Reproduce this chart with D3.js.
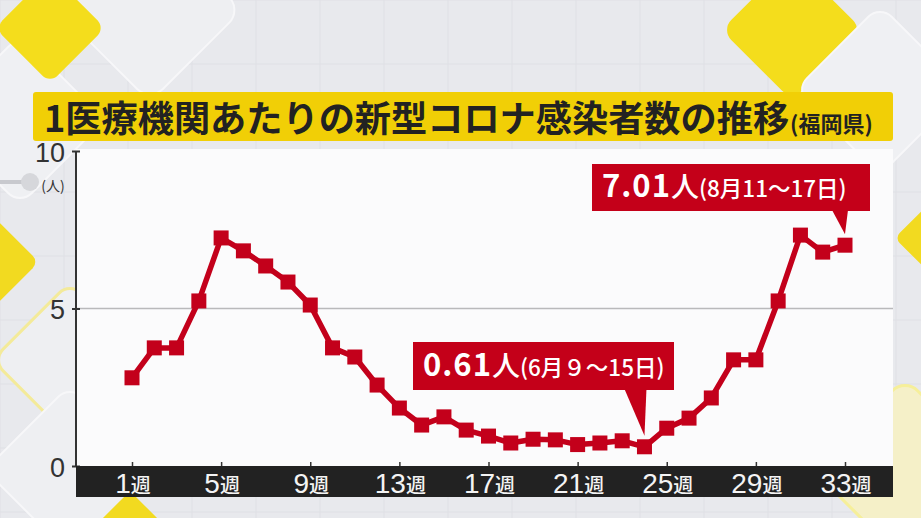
<!DOCTYPE html>
<html><head><meta charset="utf-8">
<script src="https://cdn.jsdelivr.net/npm/d3@7/dist/d3.min.js"></script>
<style>body{margin:0;overflow:hidden;background:#e9eaee}svg{display:block}</style>
</head><body>
<svg id="c" width="921" height="518"></svg>
<script>
// ---- data ----
const weeks = [1,2,3,4,5,6,7,8,9,10,11,12,13,14,15,16,17,18,19,20,21,22,23,24,25,26,27,28,29,30,31,32,33];
const values = [2.80,3.75,3.75,5.24,7.24,6.83,6.35,5.84,5.11,3.75,3.46,2.57,1.84,1.30,1.56,1.14,0.95,0.73,0.85,0.83,0.68,0.73,0.80,0.61,1.20,1.52,2.16,3.37,3.37,5.24,7.33,6.79,7.01];
const xTickWeeks = [1,5,9,13,17,21,25,29,33];
const xTickSuffix = "週";
const yTicks = [0,5,10];
const yUnit = "(人)";
const titleMain = "1医療機関あたりの新型コロナ感染者数の推移";
const titleSub = "(福岡県)";
const calloutLow = {week:24, big:"0.61", unit:"人", note:"(6月９～15日)"};
const calloutHigh = {week:33, big:"7.01", unit:"人", note:"(8月11～17日)"};

const svg = d3.select("#c");
const JP = "'Noto Sans CJK JP','Noto Sans',sans-serif";
const LAT = "'Liberation Sans','Noto Sans CJK JP',sans-serif";

// ---- background decoration ----
const bg = svg.append("g");
bg.append("rect").attr("width",921).attr("height",518).attr("fill","#e8e9ed");
for(let gx=0; gx<921; gx+=64) bg.append("line").attr("x1",gx).attr("x2",gx).attr("y1",0).attr("y2",518).attr("stroke","#dfe0e5").attr("stroke-width",1);
for(let gy=0; gy<518; gy+=64) bg.append("line").attr("y1",gy).attr("y2",gy).attr("x1",0).attr("x2",921).attr("stroke","#dfe0e5").attr("stroke-width",1);
function diamond(cx,cy,s,fill,stroke,sw){
  bg.append("rect").attr("x",-s/2).attr("y",-s/2).attr("width",s).attr("height",s).attr("rx",s*0.14)
    .attr("transform",`translate(${cx},${cy}) rotate(45)`).attr("fill",fill).attr("stroke",stroke||"none").attr("stroke-width",sw||0);
}
diamond(150,10,130,"#eeeff2","#f7f7f9",2);
diamond(20,120,120,"#eff0f3","#f7f7f9",2);
diamond(50,28,78,"#f4dd1c");
diamond(792,30,100,"#f4dd1c");
diamond(880,90,120,"#eff0f3","#f7f7f9",2);
diamond(-5,262,62,"#f2da20");
diamond(70,360,110,"#eeeff2","#f3ea9a",3);
diamond(70,470,120,"#eeeff2","#f7f7f9",2);
diamond(130,532,58,"#f2da20");
diamond(930,238,50,"#f2da20");
diamond(905,470,130,"#f5f0c8","#f6ef9a",3);
bg.append("line").attr("x1",0).attr("x2",30).attr("y1",182).attr("y2",182).attr("stroke","#c8c9ce").attr("stroke-width",4);
bg.append("circle").attr("cx",30).attr("cy",182).attr("r",9).attr("fill","#d6d7db");

// ---- title bar ----
svg.append("rect").attr("x",33).attr("y",92).attr("width",860).attr("height",49).attr("rx",3).attr("fill","#f1cf06");
const tt = svg.append("text").attr("x",44).attr("y",132).attr("fill","#222").attr("font-family",JP).attr("font-weight",700);
tt.append("tspan").attr("font-size",36.2).text(titleMain);
tt.append("tspan").attr("font-size",22).attr("dx",1).text(titleSub);

// ---- chart ----
const x = d3.scaleLinear().domain([1,33]).range([132,845]);
const y = d3.scaleLinear().domain([0,10]).range([466,151]);
const plotL = 76, plotR = 893, plotT = 149;

svg.append("rect").attr("x",plotL).attr("y",plotT).attr("width",plotR-plotL).attr("height",y(0)-plotT).attr("fill","#fbfbfc");
svg.append("line").attr("x1",plotL).attr("x2",plotR).attr("y1",y(5)).attr("y2",y(5)).attr("stroke","#b9b9bb").attr("stroke-width",1.5);

const yAxis = d3.axisLeft(y).tickValues(yTicks).tickSize(4).tickFormat(d3.format("d"));
const yg = svg.append("g").attr("transform",`translate(${plotL},0)`).call(yAxis);
yg.select(".domain").attr("stroke","#333").attr("stroke-width",2).attr("d",`M0,${y(10)}V${y(0)}`);
yg.selectAll(".tick line").attr("stroke","#333").attr("stroke-width",2).attr("x1",4);
yg.selectAll(".tick text").attr("font-family",LAT).attr("font-size",27).attr("fill","#333").attr("x",-11).attr("dy","0.38em");
svg.append("text").attr("x",53).attr("y",191).attr("text-anchor","middle").attr("font-family",JP).attr("font-size",14).attr("fill","#333").text(yUnit);

svg.append("rect").attr("x",plotL).attr("y",y(0)).attr("width",plotR-plotL).attr("height",31).attr("fill","#222");
const xAxis = d3.axisTop(x).tickValues(xTickWeeks).tickSize(4).tickFormat("");
const xg = svg.append("g").attr("transform",`translate(0,${y(0)})`).call(xAxis);
xg.select(".domain").remove();
xg.selectAll(".tick line").attr("stroke","#333").attr("stroke-width",1.5);
const xl = svg.append("g").selectAll("text").data(xTickWeeks).join("text")
  .attr("x",d=>x(d)+1).attr("y",493).attr("text-anchor","middle").attr("fill","#f4f4f4");
xl.append("tspan").attr("font-family",LAT).attr("font-size",28).text(d=>d);
xl.append("tspan").attr("font-family",JP).attr("font-size",20).attr("font-weight",500).text(xTickSuffix);

const red = "#c3001b";
svg.append("path").datum(values).attr("fill","none").attr("stroke",red).attr("stroke-width",5.5).attr("stroke-linejoin","round")
  .attr("d",d3.line().x((d,i)=>x(weeks[i])).y(d=>y(d)));
svg.append("g").selectAll("rect").data(values).join("rect")
  .attr("x",(d,i)=>x(weeks[i])-7.5).attr("y",d=>y(d)-7.5).attr("width",15).attr("height",15).attr("fill",red);

function callout(c, boxL, boxR, boxT, boxB, tailL, tailR){
  const px = x(c.week), py = y(values[weeks.indexOf(c.week)]) - 11;
  const g = svg.append("g");
  g.append("rect").attr("x",boxL).attr("y",boxT).attr("width",boxR-boxL).attr("height",boxB-boxT).attr("fill","#c40019");
  g.append("path").attr("d",`M${tailL},${boxB-1}L${tailR},${boxB-1}L${px},${py}Z`).attr("fill","#c40019");
  const t = g.append("text").attr("x",boxL+10).attr("y",boxB-14).attr("fill","#fff").attr("font-family",JP);
  t.append("tspan").attr("font-weight",700).attr("font-size",31).attr("letter-spacing",1).text(c.big);
  t.append("tspan").attr("font-size",28).attr("font-weight",500).text(c.unit);
  t.append("tspan").attr("font-size",22.5).attr("font-weight",500).text(c.note);
}
callout(calloutLow, 413, 674, 342, 390, x(24)-20, x(24)+2);
callout(calloutHigh, 592, 870, 164, 211, x(33)-13, x(33)+3);
</script>
</body></html>
